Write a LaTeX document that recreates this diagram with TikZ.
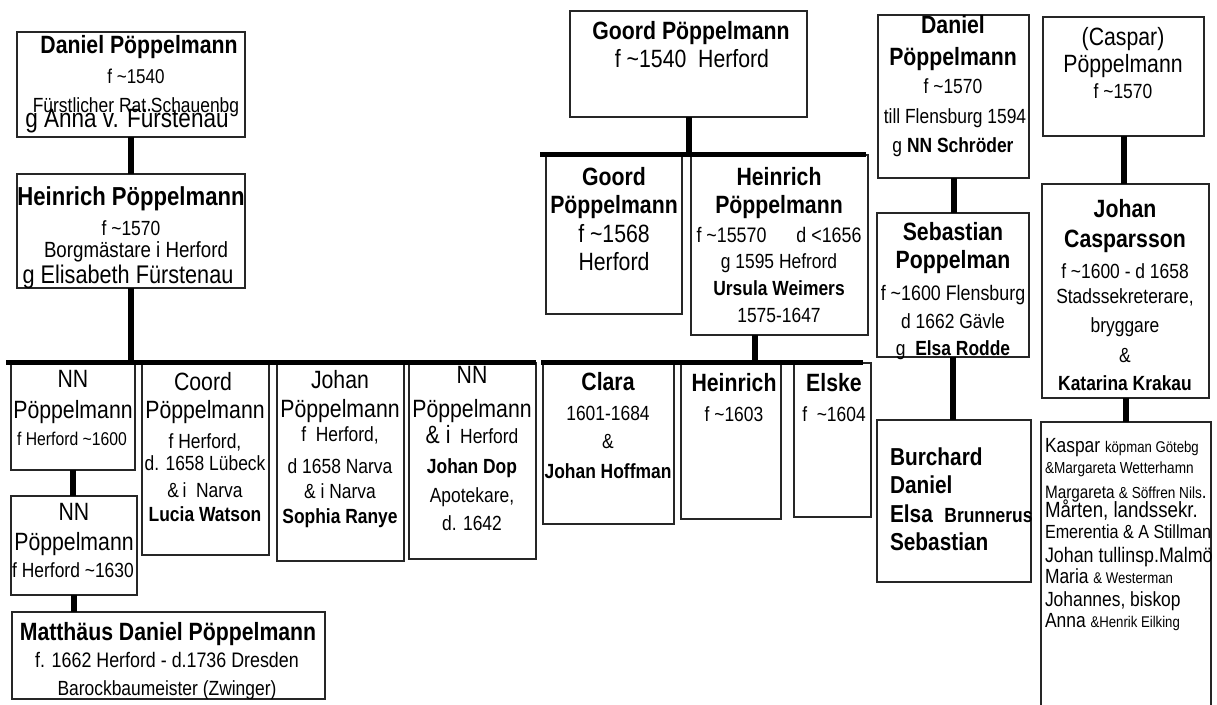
\documentclass[tikz,border=0pt]{standalone}
\usepackage{fontspec}
\setmainfont{Liberation Sans}[FakeStretch=0.85]
\newcommand\fs[1]{\fontsize{#1}{#1}\selectfont}
\newcommand\fambox[5]{\node[famb, minimum width={#4-#2}, minimum height={#5-#3}] (#1) at ({(#2+#4)/2},{(#3+#5)/2}) {};}
\tikzset{
  famb/.style={draw=black!85, line width=1.3pt, inner sep=0pt, outer sep=0pt, rectangle, fill=none},
  tx/.style={anchor=base, inner sep=0pt, outer sep=0pt},
  txl/.style={anchor=base west, inner sep=0pt, outer sep=0pt},
  bigb/.style={font=\fs{25}\bfseries},
  big/.style={font=\fs{25}},
  sm/.style={font=\fs{20.5}},
  smb/.style={font=\fs{20.5}\bfseries},
  barline/.style={line width=5pt, black},
  vconn/.style={line width=6pt, black},
}
\begin{document}
\begin{tikzpicture}[x=1pt,y=-1pt]
\path[use as bounding box, clip] (0,0) rectangle (1217,704);
\fill[white] (0,0) rectangle (1217,704);

% ---------- boxes ----------
\fambox{A}{17}{32}{245}{137}
\fambox{B}{17}{174}{245}{288}
\fambox{nn1}{11}{363}{135}{470}
\fambox{nn2}{11}{496}{137}{595}
\fambox{mdp}{12}{612}{325}{699}
\fambox{coord}{142}{363}{269}{555}
\fambox{johan}{277}{363}{404}{561}
\fambox{nnh}{409}{363}{536}{559}
\fambox{goordtop}{570}{11}{807}{117}
\fambox{goordc}{546}{155}{682}{314}
\fambox{heinr}{691}{155}{868}{335}
\fambox{clara}{543}{363}{674}{524}
\fambox{heinrs}{681}{363}{781}{519}
\fambox{elske}{794}{363}{871}{517}
\fambox{danr}{878}{15}{1029}{178}
\fambox{seb}{877}{213}{1029}{357}
\fambox{burch}{877}{420}{1031}{582}
\fambox{caspar}{1043}{17}{1204}{136}
\fambox{jc}{1042}{184}{1209}{398}
\fambox{kasp}{1041}{422}{1211}{730}

% ---------- connectors ----------
\coordinate (barLa) at (6,362);
\coordinate (barLb) at (536,362);
\coordinate (barMa) at (541,362);
\coordinate (barMb) at (863,362);
\coordinate (barTa) at (540,154);
\coordinate (barTb) at (866,154);
\coordinate (hdrop) at (755,362);

\draw[barline] (barLa) -- (barLb);
\draw[barline] (barMa) -- (barMb);
\draw[barline] (barTa) -- (barTb);

\draw[vconn] (A.south) -- (B.north);
\draw[vconn] (B.south) -- (B.south |- barLa);
\draw[vconn] (nn1.south) -- (nn1.south |- nn2.north);
\draw[vconn] (nn2.south) -- (nn2.south |- mdp.north);
\draw[vconn] (goordtop.south) -- (goordtop.south |- barTa);
\draw[vconn] (heinr.south -| hdrop) -- (hdrop);
\draw[vconn] (danr.south) -- (danr.south |- seb.north);
\draw[vconn] (seb.south) -- (seb.south |- burch.north);
\draw[vconn] (caspar.south) -- (caspar.south |- jc.north);
\draw[vconn] (jc.south) -- (jc.south |- kasp.north);

% ---------- texts ----------
% A
\node[tx, bigb] (a1) at (139,53) {Daniel Pöppelmann};
\node[tx, font=\fs{20}] (a2) at (136,83) {f \textasciitilde1540};
\node[tx, sm] (a3) at (136,112) {Fürstlicher Rat Schauenbg};
\node[tx, font=\fs{26.5}] (a4) at (127,127.5) {g Anna v. Fürstenau};
% B
\node[tx, font=\fs{26}\bfseries] (b1) at (131,205) {Heinrich Pöppelmann};
\node[tx, sm] (b2) at (131,235) {f \textasciitilde1570};
\node[tx, font=\fs{22}] (b3) at (136,257) {Borgmästare i Herford};
\node[tx, font=\fs{25.5}] (b4) at (128,283) {g Elisabeth Fürstenau};
% NN1
\node[tx, big] (n11) at (73,387) {NN};
\node[tx, big] (n12) at (73,418) {Pöppelmann};
\node[tx, font=\fs{18.5}] (n13) at (72,445) {f Herford \textasciitilde1600};
% NN2
\node[tx, big] (n21) at (74,520) {NN};
\node[tx, big] (n22) at (74,550) {Pöppelmann};
\node[tx, sm] (n23) at (73,577) {f Herford \textasciitilde1630};
% Matthaus
\node[tx, bigb] (m1) at (168,640) {Matthäus Daniel Pöppelmann};
\node[tx, font=\fs{21}] (m2) at (167,667) {f. 1662 Herford - d.1736 Dresden};
\node[tx, sm] (m3) at (167,695) {Barockbaumeister (Zwinger)};
% Coord
\node[tx, big] (c1) at (203,390) {Coord};
\node[tx, big] (c2) at (205,418) {Pöppelmann};
\node[tx, sm] (c3) at (205,448) {f Herford,};
\node[tx, sm] (c4) at (205,470) {d. 1658 Lübeck};
\node[tx, sm] (c5) at (205,497) {\&\,i\ \ Narva};
\node[tx, smb] (c6) at (205,521) {Lucia Watson};
% Johan
\node[tx, big] (j1) at (340,388) {Johan};
\node[tx, big] (j2) at (340,417) {Pöppelmann};
\node[tx, sm] (j3) at (340,441) {f\ \ Herford,};
\node[tx, sm] (j4) at (340,473) {d 1658 Narva};
\node[tx, sm] (j5) at (340,498) {\& i Narva};
\node[tx, smb] (j6) at (340,523) {Sophia Ranye};
% NN & i Herford
\node[tx, big] (h1) at (472,383) {NN};
\node[tx, big] (h2) at (472,417) {Pöppelmann};
\node[tx, sm] (h3) at (472,443) {{\fs{25}\& i}\ \ Herford};
\node[tx, smb] (h4) at (472,473) {Johan Dop};
\node[tx, sm] (h5) at (472,502) {Apotekare,};
\node[tx, sm] (h6) at (472,530) {d. 1642};
% Goord top
\node[tx, font=\fs{25}\bfseries] (g1) at (691,39) {Goord Pöppelmann};
\node[tx, big] (g2) at (692,67) {f \textasciitilde1540\ \ Herford};
% Goord child
\node[tx, bigb] (gc1) at (614,185) {Goord};
\node[tx, bigb] (gc2) at (614,213) {Pöppelmann};
\node[tx, big] (gc3) at (614,242) {f \textasciitilde1568};
\node[tx, big] (gc4) at (614,270) {Herford};
% Heinrich
\node[tx, bigb] (hr1) at (779,185) {Heinrich};
\node[tx, bigb] (hr2) at (779,213) {Pöppelmann};
\node[tx, font=\fs{21}] (hr3) at (779,242) {f \textasciitilde15570\hspace{30pt}d <1656};
\node[tx, sm] (hr4) at (779,268) {g 1595 Hefrord};
\node[tx, smb] (hr5) at (779,295) {Ursula Weimers};
\node[tx, sm] (hr6) at (779,322) {1575-1647};
% Clara
\node[tx, bigb] (cl1) at (608,390) {Clara};
\node[tx, sm] (cl2) at (608,420) {1601-1684};
\node[tx, sm] (cl3) at (608,448) {\&};
\node[tx, smb] (cl4) at (608,478) {Johan Hoffman};
% Heinrich small
\node[tx, bigb] (hs1) at (734,391) {Heinrich};
\node[tx, sm] (hs2) at (734,421) {f \textasciitilde1603};
% Elske
\node[tx, bigb] (e1) at (834,391) {Elske};
\node[tx, sm] (e2) at (834,421) {f\ \ \textasciitilde1604};
% Daniel right
\node[tx, bigb] (d1) at (953,33) {Daniel};
\node[tx, bigb] (d2) at (953,65) {Pöppelmann};
\node[tx, sm] (d3) at (953,93) {f \textasciitilde1570};
\node[tx, sm] (d4) at (955,123) {till Flensburg 1594};
\node[tx, sm] (d5) at (953,152) {g \textbf{NN Schröder}};
% Sebastian
\node[tx, bigb] (s1) at (953,240) {Sebastian};
\node[tx, bigb] (s2) at (953,268) {Poppelman};
\node[tx, font=\fs{21}] (s3) at (953,300) {f \textasciitilde1600 Flensburg};
\node[tx, sm] (s4) at (953,328) {d 1662 Gävle};
\node[tx, sm] (s5) at (953,355) {g\ \ \textbf{Elsa Rodde}};
% Burchard
\node[txl, font=\fs{24.5}\bfseries] (bu1) at (890,465) {Burchard};
\node[txl, font=\fs{24.5}\bfseries] (bu2) at (890,493) {Daniel};
\node[txl, font=\fs{24.5}\bfseries] (bu3) at (890,522) {Elsa\ \ {\fs{20.5}Brunnerus}};
\node[txl, font=\fs{24.5}\bfseries] (bu4) at (890,550) {Sebastian};
% Caspar
\node[tx, big] (cs1) at (1123,45) {(Caspar)};
\node[tx, big] (cs2) at (1123,72) {Pöppelmann};
\node[tx, sm] (cs3) at (1123,98) {f \textasciitilde1570};
% Johan Casparsson
\node[tx, bigb] (jc1) at (1125,217) {Johan};
\node[tx, bigb] (jc2) at (1125,247) {Casparsson};
\node[tx, sm] (jc3) at (1125,278) {f \textasciitilde1600 - d 1658};
\node[tx, sm] (jc4) at (1125,303) {Stadssekreterare,};
\node[tx, sm] (jc5) at (1125,332) {bryggare};
\node[tx, sm] (jc6) at (1125,362) {\&};
\node[tx, smb] (jc7) at (1125,390) {Katarina Krakau};
% Kaspar list
\node[txl, font=\fs{20.5}] (k1) at (1045,452) {Kaspar {\fs{15.5}köpman Götebg}};
\node[txl, font=\fs{16}] (k2) at (1045,473) {\&Margareta Wetterhamn};
\node[txl, font=\fs{18}] (k3) at (1045,498) {Margareta {\fs{16}\& Söffren Nils}{\fs{20}.}};
\node[txl, font=\fs{22}] (k4) at (1045,517) {Mårten, landssekr.};
\node[txl, font=\fs{19}] (k5) at (1045,538) {Emerentia \& A Stillman};
\node[txl, font=\fs{21}] (k6) at (1045,562) {Johan tullinsp.Malmö};
\node[txl, font=\fs{20.5}] (k7) at (1045,583) {Maria {\fs{15.5}\& Westerman}};
\node[txl, font=\fs{20.5}] (k8) at (1045,606) {Johannes, biskop};
\node[txl, font=\fs{20.5}] (k9) at (1045,627) {Anna {\fs{15.5}\&Henrik Eilking}};
\end{tikzpicture}
\end{document}
